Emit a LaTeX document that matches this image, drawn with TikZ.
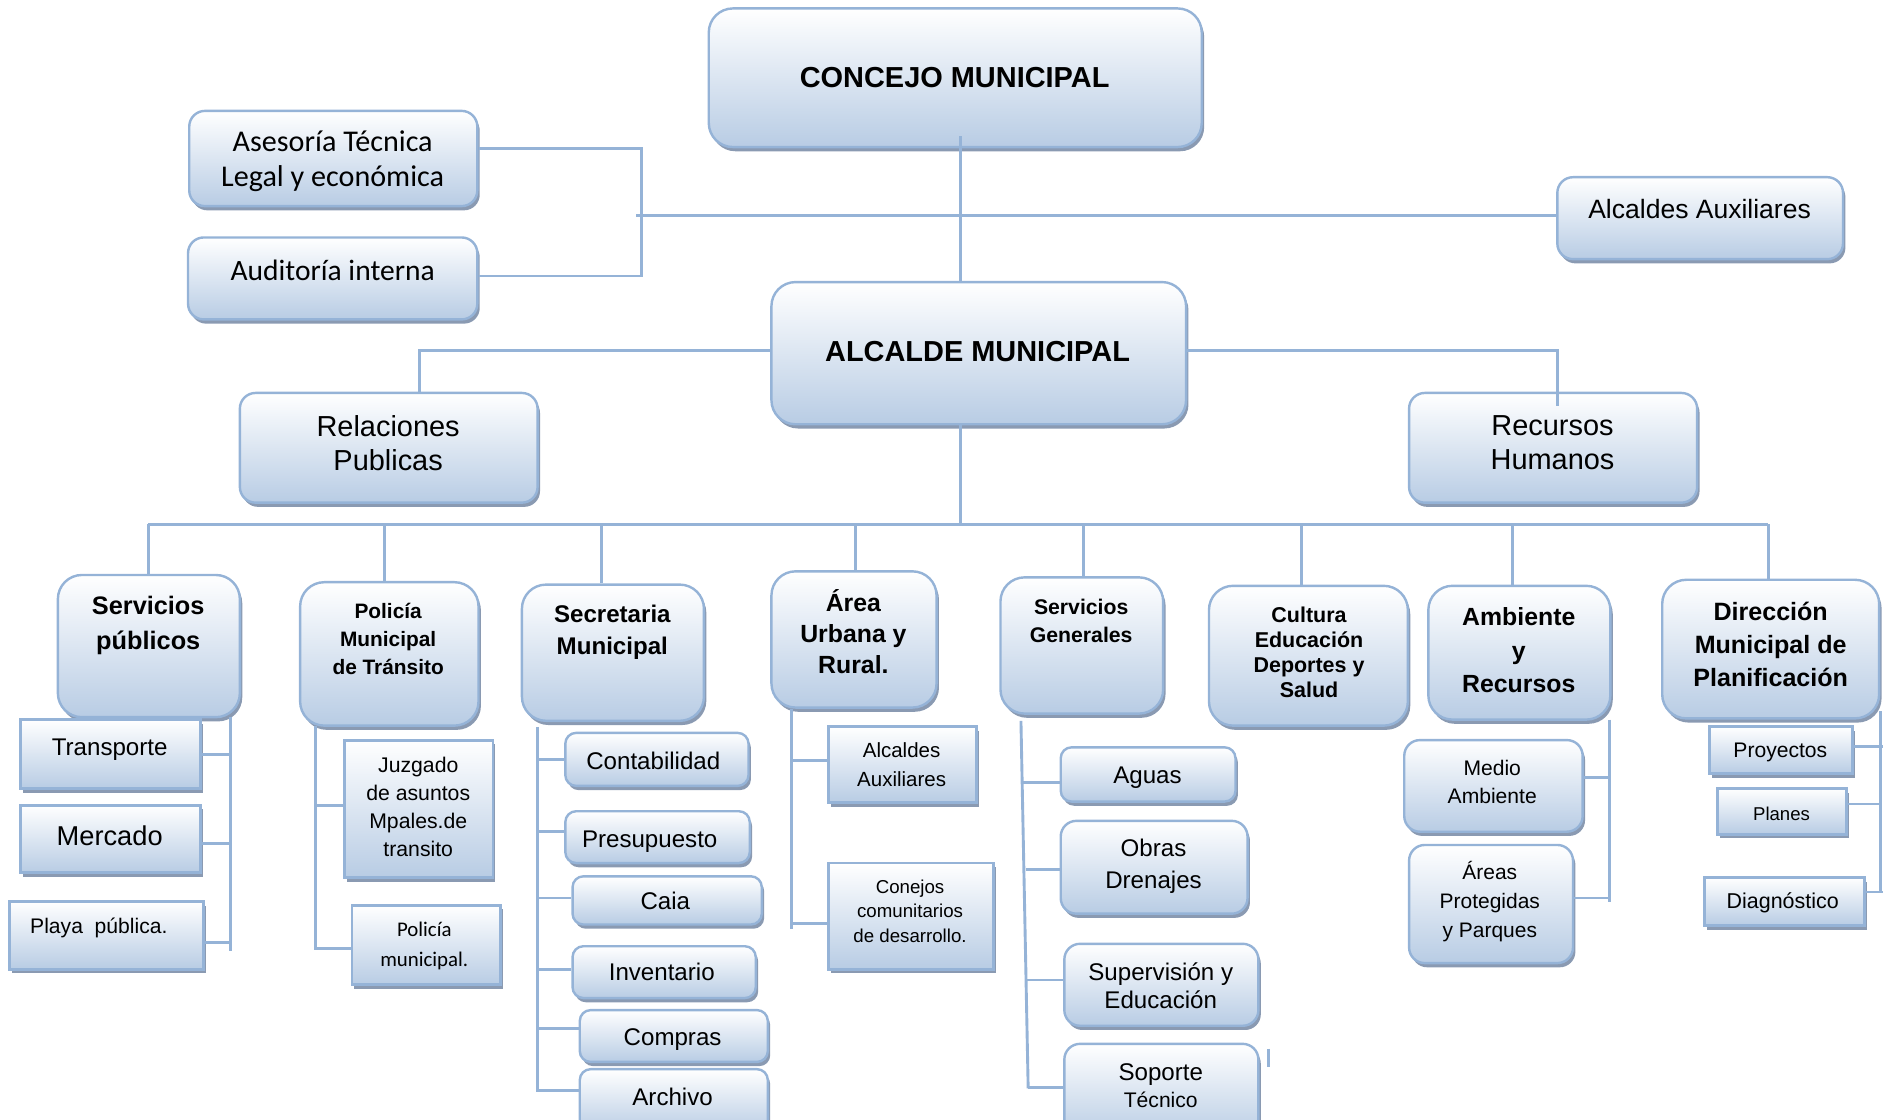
\documentclass[tikz,border=0pt]{standalone}
\usepackage{fontspec}
\setmainfont{Liberation Sans}
\newfontfamily\calib{Carlito}
\usetikzlibrary{shadows,calc}
\definecolor{lineblue}{HTML}{95B3D7}
\definecolor{fillblue}{HTML}{B8CCE4}
\definecolor{shadowc}{HTML}{8A9AB2}
\newcommand\fs[2]{\fontsize{#1}{#2}\selectfont}
\newcommand\bx[6]{\node[#1, minimum width={(#4-#3)*1pt}, minimum height={(#6-#5)*1pt}] (#2) at ({(#3+#4)/2},{(#5+#6)/2}) {};}
\tikzset{
  base/.style={draw=lineblue, line width=2pt, top color=white, bottom color=fillblue, inner sep=0pt,
    drop shadow={shadow xshift=2pt, shadow yshift=-3.5pt, fill=shadowc, opacity=1}},
  rbig/.style={base, rounded corners=20pt},
  rmid/.style={base, rounded corners=13pt},
  rsml/.style={base, rounded corners=9pt},
  sq/.style={base, rounded corners=0pt, line width=2.4pt},
  conn/.style={draw=lineblue, line width=2.4pt},
  txt/.style={inner sep=0pt, align=center, text=black},
}
\begin{document}
\begin{tikzpicture}[x=1pt,y=-1pt]
\useasboundingbox (0,0) rectangle (1568,929);
% ---------- boxes ----------
\bx{rbig}{concejo}{588}{997}{7}{122}
\bx{rmid}{ase}{157}{396}{92}{171}
\bx{rmid}{aud}{156}{396}{197}{265}
\bx{rmid}{aux}{1292}{1529}{147}{215}
\bx{rbig}{alc}{640}{984}{234}{352}
\bx{rmid}{rel}{199}{446}{326}{417}
\bx{rmid}{rrhh}{1169}{1408}{326}{417}
\bx{rbig}{sp}{48}{199}{477}{595}
\bx{rbig}{pol}{249}{397}{483}{602}
\bx{rbig}{sec}{433}{584}{485}{598}
\bx{rbig}{area}{640}{777}{474}{587}
\bx{rbig}{sg}{830}{965}{479}{592}
\bx{rbig}{cul}{1003}{1168}{486}{602}
\bx{rbig}{amb}{1185}{1336}{486}{597}
\bx{rbig}{dir}{1379}{1559}{481}{596}
\bx{sq}{trans}{17}{166}{597}{654}
\bx{sq}{merc}{17}{166}{668}{724}
\bx{sq}{playa}{8}{169}{748}{804}
\bx{sq}{juz}{286}{409}{614}{728}
\bx{sq}{polm}{292}{415}{751}{817}
\bx{rsml}{cont}{469}{621}{608}{652}
\bx{rsml}{pres}{469}{622}{673}{716}
\bx{rsml}{caja}{475}{632}{727}{767}
\bx{rsml}{inv}{475}{627}{785}{828}
\bx{rsml}{comp}{481}{637}{838}{881}
\bx{rsml}{arch}{481}{637}{887}{940}
\bx{sq}{aaux}{687}{810}{603}{666}
\bx{sq}{conej}{687}{824}{716}{804}
\bx{rsml}{aguas}{880}{1025}{620}{665}
\bx{rmid}{obras}{880}{1035}{681}{758}
\bx{rmid}{sup}{883}{1044}{783}{851}
\bx{rmid}{sop}{883}{1044}{866}{945}
\bx{rmid}{medio}{1165}{1313}{614}{690}
\bx{rmid}{areas}{1169}{1305}{701}{799}
\bx{sq}{proy}{1418}{1537}{603}{642}
\bx{sq}{plan}{1425}{1532}{654}{692}
\bx{sq}{diag}{1414}{1547}{728}{768}
% ---------- texts ----------
\node[txt, font=\bfseries\fs{24}{29}] (tconcejo) at (792,64) {CONCEJO MUNICIPAL};
\node[txt, font=\calib\fs{25}{29}] (tase) at (276,133.5) {Asesoría Técnica\\Legal y económica};
\node[txt, font=\calib\fs{24.5}{29}] (taud) at (276,224) {Auditoría interna};
\node[txt, font=\fs{22}{26}] (taux) at (1410,173) {Alcaldes Auxiliares};
\node[txt, font=\bfseries\fs{24}{29}] (talc) at (811,291.5) {ALCALDE MUNICIPAL};
\node[txt, font=\fs{24}{28}] (trel) at (322,367.5) {Relaciones\\Publicas};
\node[txt, font=\fs{24}{28}] (trrhh) at (1288,367.5) {Recursos\\Humanos};
\node[txt, font=\bfseries\fs{21}{29}] (tsp) at (123,519) {Servicios\\públicos};
\node[txt, font=\bfseries\fs{17.3}{23.5}] (tpol) at (322,530) {Policía\\Municipal\\de Tránsito};
\node[txt, font=\bfseries\fs{20}{27}] (tsec) at (508,524.5) {Secretaria\\Municipal};
\node[txt, font=\bfseries\fs{20.6}{25.5}] (tarea) at (708,524) {Área\\Urbana y\\Rural.};
\node[txt, font=\bfseries\fs{17.6}{23}] (tsg) at (897,515) {Servicios\\Generales};
\node[txt, font=\bfseries\fs{17.8}{20.7}] (tcul) at (1086,541) {Cultura\\Educación\\Deportes y\\Salud};
\node[txt, font=\bfseries\fs{20.6}{28}] (tamb) at (1260,539.5) {Ambiente\\y\\Recursos};
\node[txt, font=\bfseries\fs{20.8}{27.5}] (tdir) at (1469,534.5) {Dirección\\Municipal de\\Planificación};
\node[txt, font=\fs{20}{24}] (ttrans) at (91,622) {Transporte};
\node[txt, font=\fs{22.6}{26}] (tmerc) at (91,693) {Mercado};
\node[txt, font=\fs{17.5}{21}] (tplaya) at (82,770) {Playa\ \ pública.};
\node[txt, font=\fs{17.6}{23.3}] (tjuz) at (347,669.5) {Juzgado\\de asuntos\\Mpales.de\\transito};
\node[txt, font=\calib\fs{17.3}{25}] (tpolm) at (352,785) {Policía\\municipal.};
\node[txt, font=\fs{20}{24}] (tcont) at (542,631) {Contabilidad};
\node[txt, font=\fs{20}{24}] (tpres) at (539,698) {Presupuesto};
\node[txt, font=\fs{20}{24}] (tcaja) at (552,747.5) {Caia};
\node[txt, font=\fs{20}{24}] (tinv) at (549,806.5) {Inventario};
\node[txt, font=\fs{20}{24}] (tcomp) at (558,862.5) {Compras};
\node[txt, font=\fs{20}{24}] (tarch) at (558,910) {Archivo};
\node[txt, font=\fs{17}{24}] (taaux) at (748,634.5) {Alcaldes\\Auxiliares};
\node[txt, font=\fs{15.5}{20.5}] (tconej) at (755,756) {Conejos\\comunitarios\\de desarrollo.};
\node[txt, font=\fs{20}{24}] (taguas) at (952,645.5) {Aguas};
\node[txt, font=\fs{20}{27}] (tobras) at (957,718.5) {Obras\\Drenajes};
\node[txt, font=\fs{20}{23}] (tsup) at (963,818) {Supervisión y\\Educación};
\node[txt, font=\fs{20}{22}] (tsop) at (963,900.5) {Soporte\\\fs{17.5}{22}Técnico};
\node[txt, font=\fs{17.5}{23}] (tmedio) at (1238,649) {Medio\\Ambiente};
\node[txt, font=\fs{17.4}{24}] (tareas) at (1236,748) {Áreas\\Protegidas\\y Parques};
\node[txt, font=\fs{17.5}{21}] (tproy) at (1477,624.5) {Proyectos};
\node[txt, font=\fs{15.4}{19}] (tplan) at (1478,675) {Planes};
\node[txt, font=\fs{17.8}{21}] (tdiag) at (1479,749) {Diagnóstico};
% ---------- connectors: top ----------
\coordinate (c1) at (797,113);
\draw[conn] (c1) -- (c1 |- alc.north);
\coordinate (h1) at (528,179);
\draw[conn] (h1) -- (h1 -| aux.west);
\coordinate (jA) at (532,123);
\coordinate (jB) at (532,229);
\draw[conn] (jA -| ase.east) -- (jA) -- (jB) -- (jB -| aud.east);
\coordinate (jR) at (348,291);
\draw[conn] (jR -| alc.west) -- (jR) -- (jR |- rel.north);
\coordinate (jH) at (1292,291);
\coordinate (jH2) at (1292,337);
\draw[conn] (jH -| alc.east) -- (jH) -- (jH2);
\coordinate (bus) at (797,435);
\draw[conn] (bus |- alc.south) -- (bus);
\coordinate (busL) at (123,435);
\coordinate (busR) at (1467,435);
\draw[conn] (busL) -- (busR);
\draw[conn] (busL) -- (busL |- sp.north);
\coordinate (d2) at (319,435); \draw[conn] (d2) -- (d2 |- pol.north);
\coordinate (d3) at (499,435); \draw[conn] (d3) -- (d3 |- sec.north);
\coordinate (d4) at (710,435); \draw[conn] (d4) -- (d4 |- area.north);
\coordinate (d5) at (899,435); \draw[conn] (d5) -- (d5 |- sg.north);
\coordinate (d6) at (1080,435); \draw[conn] (d6) -- (d6 |- cul.north);
\coordinate (d7) at (1255,435); \draw[conn] (d7) -- (d7 |- amb.north);
\draw[conn] (busR) -- (busR |- dir.north);
% ---------- connectors: children ----------
\coordinate (v1) at (191,595); \coordinate (v1b) at (191,789);
\draw[conn] (v1) -- (v1b);
\coordinate (a1) at (191,626); \draw[conn] (a1 -| trans.east) -- (a1);
\coordinate (a2) at (191,700); \draw[conn] (a2 -| merc.east) -- (a2);
\coordinate (a3) at (191,782); \draw[conn] (a3 -| playa.east) -- (a3);
\coordinate (v2) at (262,602); \coordinate (v2b) at (262,788);
\draw[conn] (v2) -- (v2b);
\coordinate (b1) at (262,668); \draw[conn] (b1) -- (b1 -| juz.west);
\coordinate (b2) at (262,787); \draw[conn] (b2) -- (b2 -| polm.west);
\coordinate (v3) at (446,603); \coordinate (v3b) at (446,906);
\draw[conn] (v3) -- (v3b);
\coordinate (s1) at (446,630); \draw[conn] (s1) -- (s1 -| cont.west);
\coordinate (s2) at (446,690); \draw[conn] (s2) -- (s2 -| pres.west);
\coordinate (s3) at (446,745); \draw[conn] (s3) -- (s3 -| caja.west);
\coordinate (s4) at (446,804); \draw[conn] (s4) -- (s4 -| inv.west);
\coordinate (s5) at (446,853); \draw[conn] (s5) -- (s5 -| comp.west);
\coordinate (s6) at (446,905); \draw[conn] (s6) -- (s6 -| arch.west);
\coordinate (v4) at (657,588); \coordinate (v4b) at (657,771);
\draw[conn] (v4) -- (v4b);
\coordinate (u1) at (657,631); \draw[conn] (u1) -- (u1 -| aaux.west);
\coordinate (u2) at (657,766); \draw[conn] (u2) -- (u2 -| conej.west);
\coordinate (v5) at (847,598); \coordinate (v5b) at (853,903);
\draw[conn] (v5) -- (v5b);
\coordinate (g1) at (849,649); \draw[conn] (g1) -- (g1 -| aguas.west);
\coordinate (g2) at (851,721); \draw[conn] (g2) -- (g2 -| obras.west);
\coordinate (g3) at (852,813); \draw[conn] (g3) -- (g3 -| sup.west);
\coordinate (g4) at (853,902); \draw[conn] (g4) -- (g4 -| sop.west);
\coordinate (st1) at (1052,870); \coordinate (st2) at (1052,885);
\draw[conn] (st1) -- (st2);
\coordinate (v6) at (1335,597); \coordinate (v6b) at (1335,748);
\draw[conn] (v6) -- (v6b);
\coordinate (m1) at (1335,645); \draw[conn] (m1 -| medio.east) -- (m1);
\coordinate (m2) at (1335,745); \draw[conn] (m2 -| areas.east) -- (m2);
\coordinate (v7) at (1560,590); \coordinate (v7b) at (1560,741);
\draw[conn] (v7) -- (v7b);
\coordinate (p1) at (1562,619); \draw[conn] (p1 -| proy.east) -- (p1);
\coordinate (p2) at (1560,667); \draw[conn] (p2 -| plan.east) -- (p2);
\coordinate (p3) at (1562,740); \draw[conn] (p3 -| diag.east) -- (p3);
\end{tikzpicture}
\end{document}
